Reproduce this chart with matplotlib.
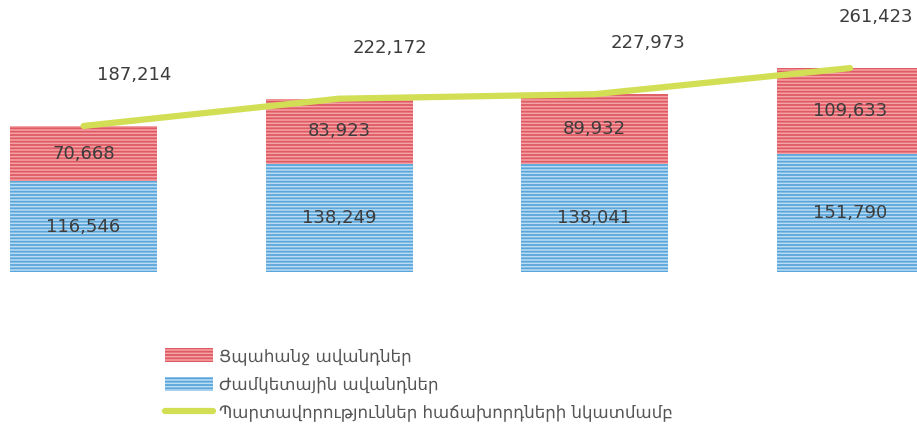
import matplotlib.pyplot as plt
import numpy as np

# data
years = ["1", "2", "3", "4"]
term_deposits = [116546, 138249, 138041, 151790]     # blue, bottom
demand_deposits = [70668, 83923, 89932, 109633]      # red, top
totals = [187214, 222172, 227973, 261423]

lbl_red = "Ցպահանջ ավանդներ"
lbl_blue = "Ժամկետային ավանդներ"
lbl_line = "Պարտավորություններ հաճախորդների նկատմամբ"

# horizontal shift of the total labels (the last one sits near the edge)
total_dx = [0.2, 0.2, 0.21, 0.1]

plt.rcParams['font.family'] = ['DejaVu Sans']
plt.rcParams['hatch.linewidth'] = 1.3

fig = plt.figure(figsize=(9.17, 4.28), dpi=100)
ax = fig.add_axes([0, 1 - 272 / 428, 1, 272 / 428])

x = np.arange(len(years))
w = 0.575

plt.rcParams['hatch.color'] = '#5aa6da'
b1 = ax.bar(x, term_deposits, w, color='#bcdcf3', hatch='-----',
            edgecolor='#5aa6da', linewidth=0, label=lbl_blue)
plt.rcParams['hatch.color'] = '#e05a64'
b2 = ax.bar(x, demand_deposits, w, bottom=term_deposits, color='#f4a4a6',
            hatch='-----', edgecolor='#e05a64', linewidth=0, label=lbl_red)

ln, = ax.plot(x, totals, color='#d2df55', lw=4.5, solid_capstyle='round',
              label=lbl_line, zorder=3)

for i in x:
    ax.text(i, term_deposits[i] / 2, f"{term_deposits[i]:,}", ha='center',
            va='center', fontsize=13, color='#3c3c3c')
    ax.text(i, term_deposits[i] + demand_deposits[i] / 2, f"{demand_deposits[i]:,}",
            ha='center', va='center', fontsize=13, color='#3c3c3c')
    ax.text(i + total_dx[i], totals[i] + 65000, f"{totals[i]:,}", ha='center',
            va='center', fontsize=13, color='#3c3c3c')

ax.set_xlim(-0.327, 3.262)
ax.set_ylim(0, 272 * 1282)
ax.axis('off')

fig.legend(handles=[b2, b1, ln], labels=[lbl_red, lbl_blue, lbl_line],
           loc='upper left', bbox_to_anchor=(150 / 917, 1 - 332 / 428),
           frameon=False, fontsize=12, labelcolor='#555555',
           handlelength=2.9, handleheight=0.9, handletextpad=0.35,
           labelspacing=0.62)

fig.savefig('out.png', dpi=100)
